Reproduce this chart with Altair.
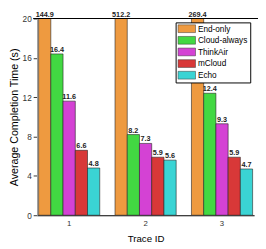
import altair as alt
import pandas as pd

traces = ["1", "2", "3"]
series = ["End-only", "Cloud-always", "ThinkAir", "mCloud", "Echo"]
end_only = [144.9, 512.2, 269.4]
cloud_always = [16.4, 8.2, 12.4]
think_air = [11.6, 7.3, 9.3]
m_cloud = [6.6, 5.9, 5.9]
echo = [4.8, 5.6, 4.7]
colors = ["#EE9A40", "#42D842", "#D442D4", "#D83838", "#3AD4D4"]

rows = []
for name, vals in zip(series, [end_only, cloud_always, think_air, m_cloud, echo]):
    for t, v in zip(traces, vals):
        rows.append({"trace": t, "series": name, "value": v, "order": series.index(name)})
df = pd.DataFrame(rows)

FONT = "Liberation Sans"
ymax = 20

x_enc = alt.X("trace:N", sort=traces, title="Trace ID",
              scale=alt.Scale(paddingInner=0.2, paddingOuter=0.02),
              axis=alt.Axis(labelAngle=0, ticks=False, domainColor="black", domainWidth=1.2,
                            labelFontSize=8, labelColor="#333", titleFontSize=10,
                            titleFontWeight="normal", labelPadding=5, titlePadding=6))
xoff = alt.XOffset("series:N", sort=series, scale=alt.Scale(paddingInner=0, paddingOuter=0))
y_scale = alt.Scale(domain=[0, ymax], nice=False)

base = alt.Chart(df)

bars = base.mark_bar(clip=True, stroke="#222", strokeWidth=0.6).encode(
    x=x_enc,
    xOffset=xoff,
    y=alt.Y("value:Q", scale=y_scale, title="Average Completion Time (s)",
            axis=alt.Axis(values=list(range(0, 21, 2)),
                          labelExpr="datum.value % 4 === 0 ? datum.label : ''",
                          labelOverlap=False, labelFlush=False,
                          tickSize=alt.ExprRef("datum.value % 4 === 0 ? 4 : 2"),
                          grid=False, domainColor="#999", tickColor="#333",
                          labelFontSize=8.5, labelColor="#333", titleFontSize=11,
                          titleFontWeight="normal", labelPadding=2, titlePadding=3)),
    color=alt.Color("series:N", sort=series,
                    scale=alt.Scale(domain=series, range=colors),
                    legend=alt.Legend(title=None, orient="none", legendX=143, legendY=4,
                                      fillColor="white", strokeColor="black",
                                      padding=2, labelFontSize=8.5, labelFont=FONT,
                                      symbolType="M-1,-1H3.5V1H-1Z", symbolSize=64,
                                      symbolStrokeColor="#333", symbolStrokeWidth=0.5,
                                      symbolOpacity=1, rowPadding=1, labelOffset=12)),
)

labels = base.transform_calculate(
    ypos=f"min(datum.value, {ymax})"
).mark_text(fontSize=7.5, fontWeight="bold", baseline="alphabetic", dy=-2, color="#222",
            font=FONT).encode(
    x=alt.X("trace:N", sort=traces),
    xOffset=alt.XOffset("series:N", sort=series),
    y=alt.Y("ypos:Q", scale=y_scale),
    text=alt.Text("value:Q", format=".1f"),
)

top_line = alt.Chart(pd.DataFrame({"v": [ymax]})).mark_rule(color="black", strokeWidth=1.2).encode(
    y=alt.Y("v:Q", scale=y_scale), x=alt.value(-4), x2=alt.value(230)
)

shadow = alt.Chart(pd.DataFrame({"v": [0]})).mark_rect(color="black").encode(
    x=alt.value(147), x2=alt.value(219), y=alt.value(8), y2=alt.value(65)
)

chart = alt.layer(shadow, bars, labels, top_line).properties(
    width=224, height=203,
    autosize=alt.AutoSizeParams(type="none"),
    padding={"left": 30, "top": 7, "right": 4, "bottom": 31}
).configure(font=FONT).configure_view(stroke=None)

chart.save("out.html", embed_options={"renderer": "svg", "actions": False})
